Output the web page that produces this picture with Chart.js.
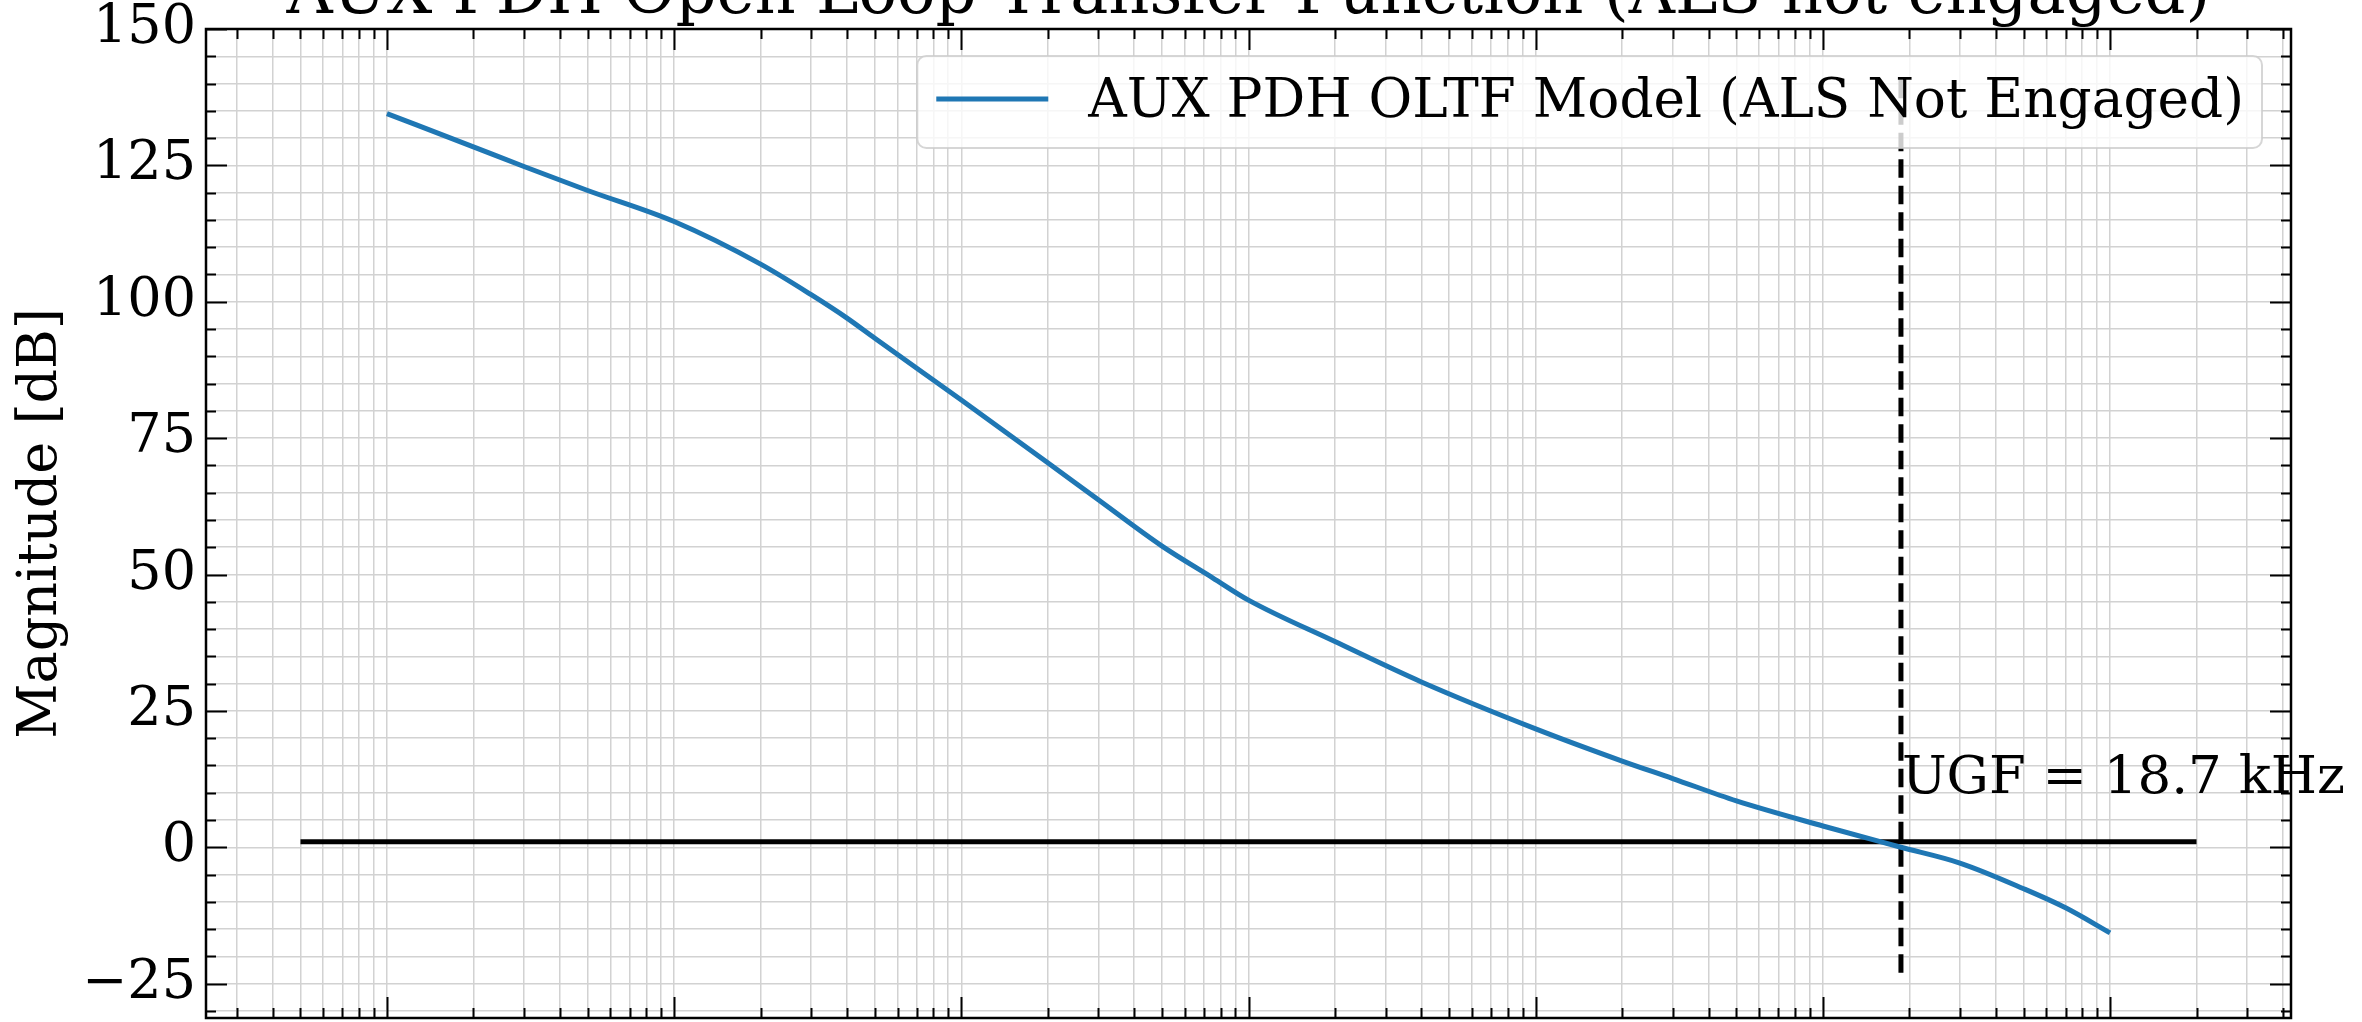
<!DOCTYPE html>
<html>
<head>
<meta charset="utf-8">
<title>AUX PDH OLTF</title>
<script src="https://cdn.jsdelivr.net/npm/chart.js@4.4.1/dist/chart.umd.min.js"></script>
<style>
  html, body { margin: 0; padding: 0; background: #ffffff; }
  #wrap { width: 2362px; height: 1022px; }
</style>
</head>
<body>
<div id="wrap"><canvas id="bode" width="2362" height="1022"></canvas></div>
<script>
// Bode magnitude (Hz, dB)
const freqHz = [0.1, 0.2, 0.3, 0.5, 1, 2, 3, 4, 5, 10, 20, 30, 50, 75, 100, 200, 400,
                1000, 2000, 3000, 5000, 10000, 18700, 30000, 50000, 70000, 100000];
const magDb = [134.5, 128.4, 124.8, 120.4, 114.7, 106.9, 101.3, 97.0, 93.3, 82.0, 70.5, 63.7, 55.2, 49.4, 45.3, 37.7, 30.3,
               21.7, 15.8, 12.6, 8.5, 3.9, 0.0, -2.9, -7.6, -11.1, -15.7];

// unity-gain reference line and UGF marker
const refFreqHz = [0.05, 200000];
const refDb = [1, 1];
const ugfFreqHz = [18700, 18700];
const ugfDb = [-23, 141];
const ugfLabelDb = 10;

// axes
const yMajorTicks = [-25, 0, 25, 50, 75, 100, 125, 150];
const yMinorStep = 5;
const decadeExps = [-2, -1, 0, 1, 2, 3, 4, 5];

const chartTitle = 'AUX PDH Open Loop Transfer Function (ALS not engaged)';
const legendLabel = 'AUX PDH OLTF Model (ALS Not Engaged)';
const ugfLabel = 'UGF = 18.7 kHz';
const yLabel = 'Magnitude [dB]';

const SERIF = '"DejaVu Serif", "Liberation Serif", serif';
const BLUE = '#1f77b4';
const GRID = '#d2d2d2';

function toPoints(xs, ys) {
    return xs.map((x, i) => ({ x: x, y: ys[i] }));
}

// inward ticks, frame, legend, annotation and title
const decorPlugin = {
    id: 'decor',
    afterDatasetsDraw(chart) {
        const ctx = chart.ctx;
        const area = chart.chartArea;
        const xs = chart.scales.x;
        const ys = chart.scales.y;

        ctx.save();
        ctx.strokeStyle = '#000';
        ctx.lineWidth = 2;

        // y ticks left + right
        ys.ticks.forEach(t => {
            const py = Math.round(ys.getPixelForValue(t.value)) + 0.5;
            const len = yMajorTicks.includes(t.value) ? 21 : 10;
            ctx.beginPath();
            ctx.moveTo(area.left, py);
            ctx.lineTo(area.left + len, py);
            ctx.moveTo(area.right, py);
            ctx.lineTo(area.right - len, py);
            ctx.stroke();
        });

        // x ticks bottom + top
        xs.ticks.forEach(t => {
            const px = Math.round(xs.getPixelForValue(t.value)) + 0.5;
            const exp = Math.log10(t.value);
            const len = Math.abs(exp - Math.round(exp)) < 1e-9 ? 21 : 10;
            ctx.beginPath();
            ctx.moveTo(px, area.bottom);
            ctx.lineTo(px, area.bottom - len);
            ctx.moveTo(px, area.top);
            ctx.lineTo(px, area.top + len);
            ctx.stroke();
        });

        // frame
        ctx.lineWidth = 2.5;
        ctx.strokeRect(area.left, area.top, area.right - area.left, area.bottom - area.top);

        // legend box (upper right)
        ctx.font = '53.3px ' + SERIF;
        const tw = ctx.measureText(legendLabel).width;
        const boxW = 171 + tw + 18;
        const boxH = 92;
        const bx = area.right - 29 - boxW;
        const by = area.top + 27;
        ctx.beginPath();
        ctx.roundRect(bx, by, boxW, boxH, 9);
        ctx.fillStyle = 'rgba(255,255,255,0.8)';
        ctx.fill();
        ctx.strokeStyle = 'rgba(204,204,204,0.8)';
        ctx.lineWidth = 2;
        ctx.stroke();

        ctx.beginPath();
        ctx.strokeStyle = BLUE;
        ctx.lineWidth = 5;
        ctx.moveTo(bx + 19, by + 43);
        ctx.lineTo(bx + 131, by + 43);
        ctx.stroke();

        ctx.fillStyle = '#000';
        ctx.textAlign = 'left';
        ctx.textBaseline = 'alphabetic';
        ctx.fillText(legendLabel, bx + 171, by + 61);

        // UGF annotation
        ctx.font = '53px ' + SERIF;
        ctx.fillText(ugfLabel, xs.getPixelForValue(ugfFreqHz[0]) + 1, ys.getPixelForValue(ugfLabelDb));

        // title, mostly above the canvas top
        ctx.font = '64px ' + SERIF;
        ctx.textAlign = 'center';
        ctx.fillText(chartTitle, (area.left + area.right) / 2, 13);
        ctx.restore();
    }
};

const ctx = document.getElementById('bode').getContext('2d');
const bodeChart = new Chart(ctx, {
    type: 'line',
    data: {
        datasets: [{
            label: legendLabel,
            data: toPoints(freqHz, magDb),
            borderColor: BLUE,
            borderWidth: 5,
            pointRadius: 0,
            cubicInterpolationMode: 'monotone',
            fill: false
        }, {
            label: 'unity',
            data: toPoints(refFreqHz, refDb),
            borderColor: '#000',
            borderWidth: 5,
            pointRadius: 0,
            fill: false
        }, {
            label: 'UGF',
            data: toPoints(ugfFreqHz, ugfDb),
            borderColor: '#000',
            borderWidth: 5,
            borderDash: [18.5, 8],
            pointRadius: 0,
            fill: false
        }]
    },
    options: {
        responsive: false,
        devicePixelRatio: 1,
        animation: false,
        layout: { padding: { left: 0, right: 71, top: 29, bottom: 4 } },
        plugins: {
            legend: { display: false },
            title: { display: false },
            tooltip: { enabled: false }
        },
        scales: {
            x: {
                type: 'logarithmic',
                min: Math.pow(10, -1.63),
                max: Math.pow(10, 5.63),
                border: { display: false },
                grid: { color: GRID, lineWidth: 1.5, drawTicks: false },
                ticks: { display: false },
                afterBuildTicks: scale => {
                    const ticks = [];
                    decadeExps.forEach(e => {
                        for (let m = 1; m <= 9; m++) {
                            const v = m * Math.pow(10, e);
                            if (v >= scale.min && v <= scale.max) ticks.push({ value: v });
                        }
                    });
                    scale.ticks = ticks;
                },
                afterFit: scale => {
                    scale.height = 0;
                    scale.paddingLeft = 0;
                    scale.paddingRight = 0;
                }
            },
            y: {
                min: -31.3,
                max: 150,
                border: { display: false },
                grid: { color: GRID, lineWidth: 1.5, drawTicks: false },
                ticks: {
                    autoSkip: false,
                    padding: 10,
                    color: '#000',
                    font: { family: SERIF, size: 54, lineHeight: 1 },
                    callback: v => {
                        if (!yMajorTicks.includes(v)) return '';
                        return v < 0 ? '\u2212' + Math.abs(v) : String(v);
                    }
                },
                title: {
                    display: true,
                    text: yLabel,
                    color: '#000',
                    font: { family: SERIF, size: 54, lineHeight: 1.2 },
                    padding: { top: 10, bottom: 0 }
                },
                afterBuildTicks: scale => {
                    const ticks = [];
                    for (let v = yMajorTicks[0] - yMinorStep; v <= yMajorTicks[yMajorTicks.length - 1]; v += yMinorStep) {
                        if (v >= scale.min) ticks.push({ value: v });
                    }
                    scale.ticks = ticks;
                },
                afterFit: scale => {
                    scale.width = 206;
                    scale.paddingTop = 0;
                    scale.paddingBottom = 0;
                }
            }
        }
    },
    plugins: [decorPlugin]
});
</script>
</body>
</html>
